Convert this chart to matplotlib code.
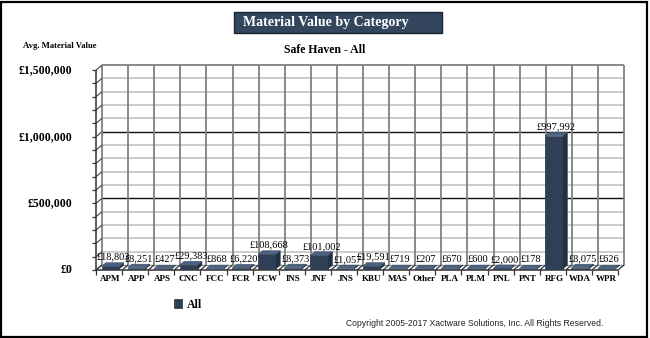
import matplotlib
matplotlib.use("Agg")
import matplotlib.pyplot as plt
from matplotlib.patches import Rectangle, Polygon

categories = ["APM", "APP", "APS", "CNC", "FCC", "FCR", "FCW", "INS", "JNF", "JNS",
              "KBU", "MAS", "Other", "PLA", "PLM", "PNL", "PNT", "RFG", "WDA", "WPR"]
values = [18803, 8251, 427, 29383, 868, 6220, 108668, 8373, 101002, 1057,
          19591, 719, 207, 670, 600, 2000, 178, 997992, 8075, 626]
value_labels = ["£18,803", "£8,251", "£427", "£29,383", "£868", "£6,220", "£108,668",
                "£8,373", "£101,002", "£1,057", "£19,591", "£719", "£207", "£670",
                "£600", "£2,000", "£178", "£997,992", "£8,075", "£626"]
y_ticks = [0, 500000, 1000000, 1500000]
y_tick_labels = ["£0", "£500,000", "£1,000,000", "£1,500,000"]
minor_step = 100000

W, H = 650, 338
SERIF = ["Liberation Serif", "DejaVu Serif"]
SANS = ["Liberation Sans", "DejaVu Sans"]
FRONT = "#2f3f56"
SIDE = "#223044"
TOP = "#4d6280"

fig = plt.figure(figsize=(W / 100, H / 100), dpi=100)

def ftext(x, y, s, **kw):
    fig.text(x / W, 1 - y / H, s, **kw)

# outer border
fig.add_artist(Rectangle((1 / W, 1 / H), 646 / W, 335 / H, transform=fig.transFigure,
                         fill=False, edgecolor="black", lw=1.6))

# title box
fig.add_artist(Rectangle((234 / W, 1 - 33 / H), 208 / W, 21 / H, transform=fig.transFigure,
                         facecolor="#34465e", edgecolor="#1a2230", lw=1.0))
ftext(326, 22.5, "Material Value by Category", color="white", fontsize=10, fontweight="bold",
      family=SERIF, ha="center", va="center")
ftext(60, 46, "Avg. Material Value", fontsize=6.2, fontweight="bold", family=SERIF,
      ha="center", va="center")
ftext(325, 50, "Safe Haven - All", fontsize=8.5, fontweight="bold", family=SERIF,
      ha="center", va="center")

# plot axes (front plane)
x0p, x1p, y0p, y1p = 96, 618, 270, 70
ax = fig.add_axes([x0p / W, 1 - y0p / H, (x1p - x0p) / W, (y0p - y1p) / H])
n = len(categories)
ymax = y_ticks[-1]
ax.set_xlim(0, n)
ax.set_ylim(0, ymax)
ax.axis("off")

px_x = n / (x1p - x0p)          # data units per pixel (x)
px_y = ymax / (y0p - y1p)       # data units per pixel (y)
DX, DY = 6 * px_x, 5 * px_y     # depth offset

kw = dict(clip_on=False, solid_capstyle="butt")
# back wall horizontal gridlines
levels = list(range(0, ymax + 1, minor_step))
for v in levels:
    if v == ymax:
        c, lw = "#808080", 1.3
    elif v == 0:
        c, lw = "#909090", 1.0
    elif v % 500000 == 0:
        c, lw = "#111111", 1.0
    else:
        c, lw = "#c8c8c8", 1.3
    ax.plot([DX, n + DX], [v + DY, v + DY], color=c, lw=lw, zorder=1, **kw)
    ax.plot([0, DX], [v, v + DY], color="#444444", lw=0.8, zorder=2, **kw)
    ax.plot([-4 * px_x, 0], [v, v], color="#333333", lw=0.9, zorder=2, **kw)
for k in range(n + 1):
    ax.plot([k + DX, k + DX], [DY, ymax + DY], color="#808080", lw=1.3, zorder=1, **kw)
ax.plot([0, 0], [0, ymax], color="#333333", lw=1.1, zorder=2, **kw)
ax.plot([0, n], [0, 0], color="#333333", lw=1.1, zorder=2, **kw)
for k in range(n + 1):
    ax.plot([k, k + DX], [0, DY], color="#333333", lw=0.9, zorder=2, **kw)
    ax.plot([k, k], [0, -5 * px_y], color="#333333", lw=0.9, zorder=2, **kw)

# bars
w, f, d = 0.68, 0.25, 0.7
for i, v in enumerate(values):
    bx = i + (1 - w) / 2 + f * DX
    by = f * DY
    ax.add_patch(Rectangle((bx, by), w, v, facecolor=FRONT, edgecolor=SIDE, lw=0.4,
                           zorder=3, clip_on=False))
    ax.add_patch(Polygon([(bx + w, by), (bx + w + d * DX, by + d * DY),
                          (bx + w + d * DX, by + v + d * DY), (bx + w, by + v)],
                         closed=True, facecolor=SIDE, edgecolor=SIDE, lw=0.4,
                         zorder=3, clip_on=False))
    ax.add_patch(Polygon([(bx, by + v), (bx + w, by + v),
                          (bx + w + d * DX, by + v + d * DY), (bx + d * DX, by + v + d * DY)],
                         closed=True, facecolor=TOP, edgecolor="#3a4d66", lw=0.4,
                         zorder=3, clip_on=False))
    ax.text(bx + w / 2 + d * DX / 2, by + v + d * DY + 1 * px_y, value_labels[i],
            fontsize=7.5, family=SERIF, ha="center", va="bottom", zorder=5)
    ax.text(i + 0.55, -9 * px_y, categories[i], fontsize=6.5, fontweight="bold",
            family=SERIF, ha="center", va="center")

for v, lab in zip(y_ticks, y_tick_labels):
    ax.text(-24 * px_x, v, lab, fontsize=8.5, fontweight="bold", family=SERIF,
            ha="right", va="center")

# legend
fig.add_artist(Rectangle((174 / W, 1 - 308 / H), 8 / W, 9 / H, transform=fig.transFigure,
                         facecolor=FRONT, edgecolor=SIDE, lw=0.5))
ftext(187, 304.5, "All", fontsize=8.5, fontweight="bold", family=SERIF, ha="left", va="center")

ftext(603, 324, "Copyright 2005-2017 Xactware Solutions, Inc. All Rights Reserved.",
      fontsize=6.2, family=SANS, ha="right", va="center", color="#222222")

fig.savefig("out.png", dpi=100)
